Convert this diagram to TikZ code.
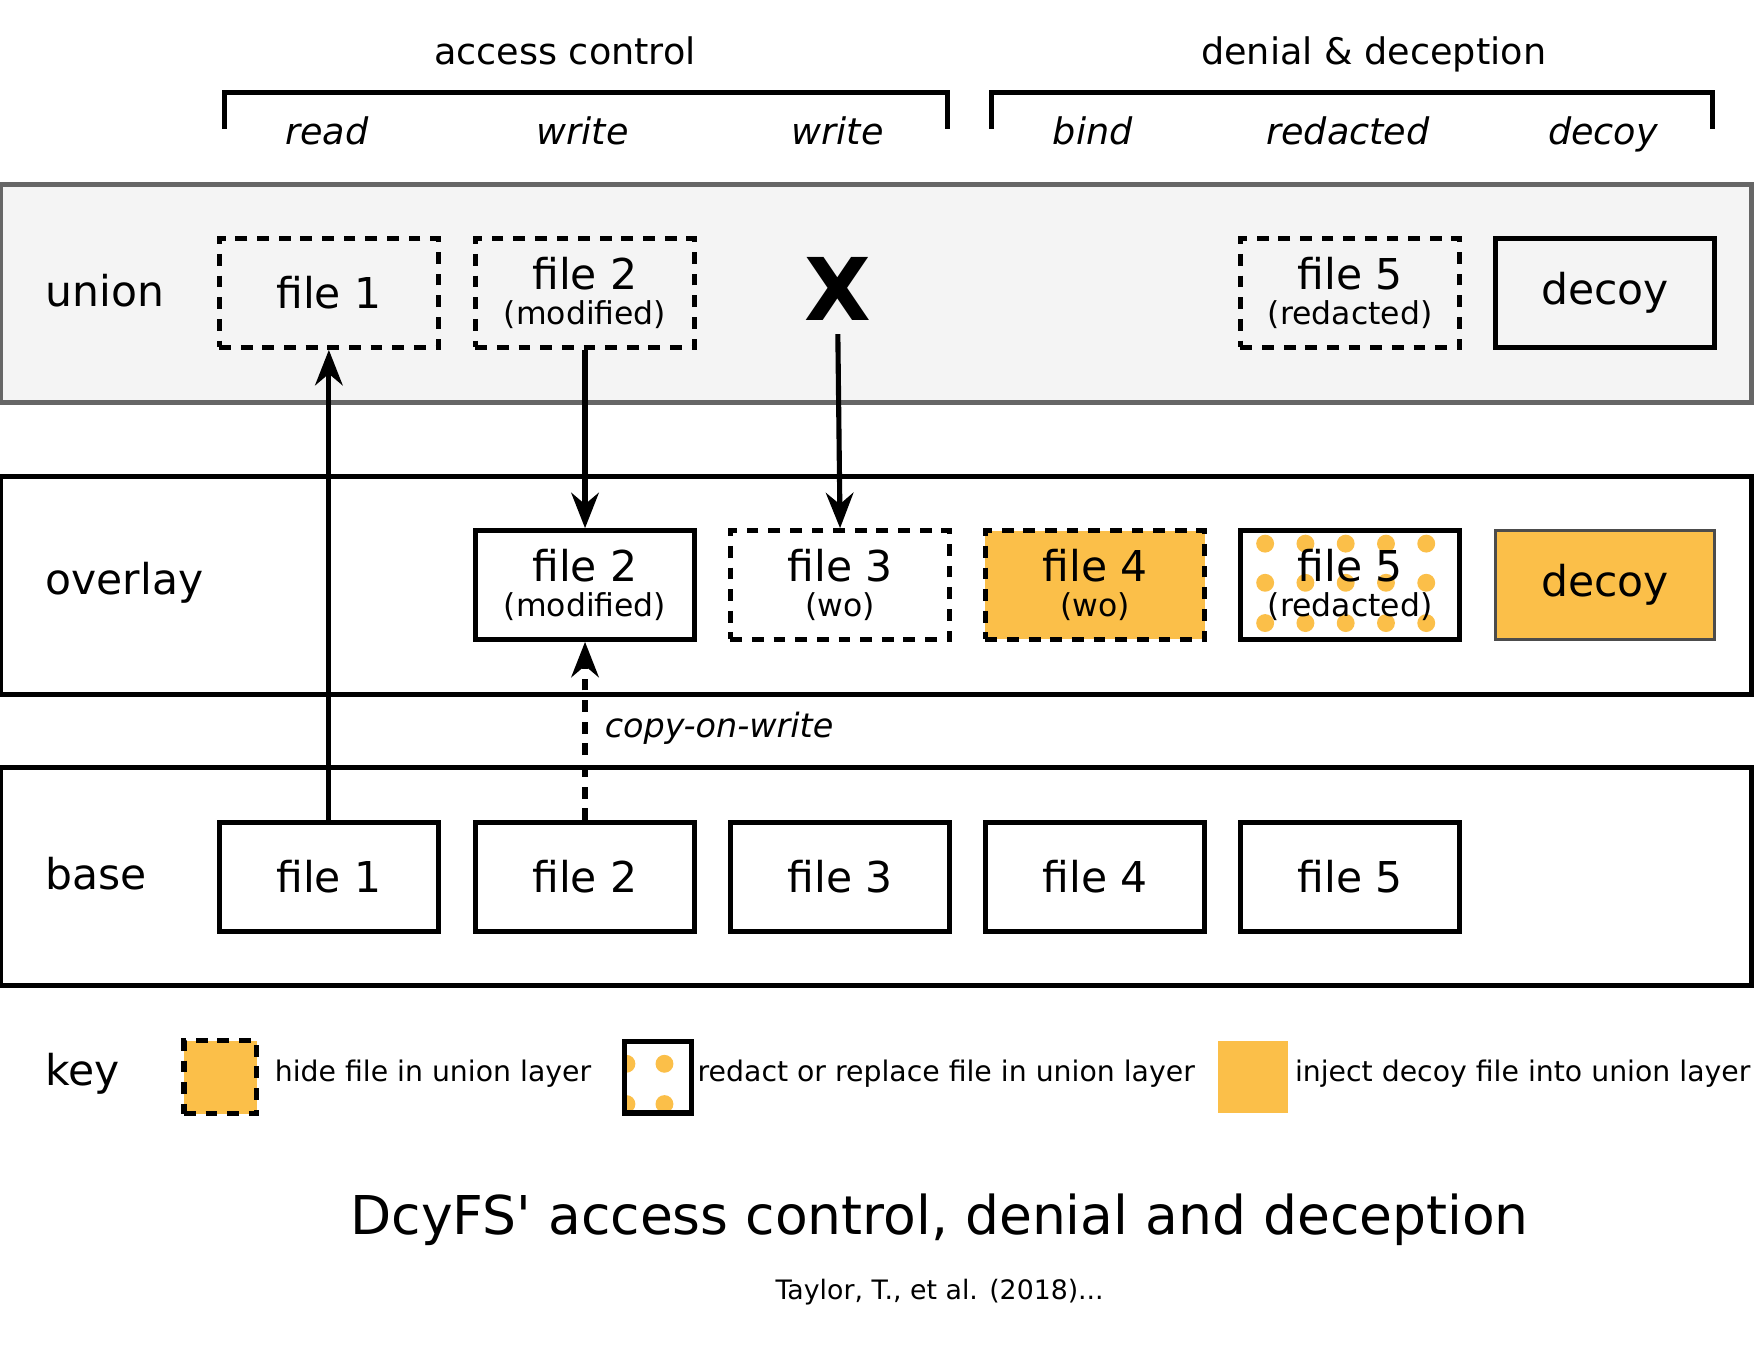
\documentclass[tikz,border=0pt]{standalone}
\usepackage{fontspec}
\usetikzlibrary{arrows.meta}
\setmainfont{DejaVu Sans}
\definecolor{dcyorange}{RGB}{251,191,73}
\definecolor{bandgray}{RGB}{244,244,244}
\tikzset{
  box/.style={draw=black,line width=1.3pt,minimum width=1.96cm,minimum height=0.97cm,inner sep=0pt,align=center,font=\fontsize{10.8}{12}\selectfont},
  hide/.style={dash pattern=on 3pt off 2.5pt},
  band/.style={draw=black,line width=1.3pt},
  lbl/.style={anchor=west,inner sep=0pt,font=\fontsize{10.8}{12}\selectfont},
  col/.style={font=\fontsize{9.3}{10}\selectfont\itshape},
  keytext/.style={anchor=west,inner sep=0pt,font=\fontsize{7.2}{8}\selectfont},
  arr/.style={-{Stealth[length=9pt,width=7pt]},line width=1.3pt},
}
\newcommand{\twoline}[2]{#1\\[-3pt]{\fontsize{8}{9}\selectfont #2}}
\begin{document}
\begin{tikzpicture}[x=0.01cm,y=-0.01cm]
  \useasboundingbox (0,0) rectangle (1568,1216);
  \clip (0,0) rectangle (1568,1216);

  % layers
  \draw [draw=black!60,fill=bandgray,line width=1.3pt] (0,165) rectangle (1566,360);
  \draw [band] (0,426) rectangle (1566,621);
  \draw [band] (0,686) rectangle (1566,881);
  \node [lbl] (union) at (40,260) {union};
  \node [lbl] (overlay) at (40,521) {overlay};
  \node [lbl] (base) at (40,781) {base};
  \node [lbl] (key) at (40,960) {key};

  % brackets and headers
  \draw [line width=1.3pt] (201,115) -- (201,83) -- (847,83) -- (847,115);
  \draw [line width=1.3pt] (886,115) -- (886,83) -- (1531,83) -- (1531,115);
  \node [font=\fontsize{9.3}{10}\selectfont,anchor=base] (ac) at (505,58) {access control};
  \node [font=\fontsize{9.3}{10}\selectfont,anchor=base] (dd) at (1228,58) {denial \& deception};
  \foreach \x/\t in {292/read,521/write,749/write,977/bind,1205/redacted,1433/decoy}
    \node [col,anchor=base] at (\x,129) {\t};

  % union row
  \node [box,hide] (u1) at (294,262) {file 1};
  \node [box,hide] (u2) at (523,262) {\twoline{file 2}{(modified)}};
  \node [font=\fontsize{22}{22}\bfseries] (ux) at (749,258) {X};
  \node [box,hide] (u5) at (1207,262) {\twoline{file 5}{(redacted)}};
  \node [box] (u6) at (1435,262) {decoy};

  % overlay row
  \node [box] (o2) at (523,523) {\twoline{file 2}{(modified)}};
  \node [box,hide] (o3) at (751,523) {\twoline{file 3}{(wo)}};
  \node [box,hide,fill=dcyorange] (o4) at (979,523) {\twoline{file 4}{(wo)}};
  \begin{scope}
    \clip (1109,474) rectangle (1305,572);
    \foreach \x in {1131,1167,1203,1239,1275}
      \foreach \y in {486,521,557}
        \fill [dcyorange] (\x,\y) circle (0.08cm);
  \end{scope}
  \node [box] (o5) at (1207,523) {\twoline{file 5}{(redacted)}};
  \node [box,draw=black!70,line width=0.8pt,fill=dcyorange] (o6) at (1435,523) {decoy};

  % base row
  \foreach \x [count=\i] in {294,523,751,979,1207}
    \node [box] (b\i) at (\x,784) {file \i};

  % connectors
  \draw [arr] (b1.north) -- (u1.south);
  \draw [arr] (u2.south) -- (o2.north);
  \draw [arr] (ux.south) -- (o3.north);
  \draw [arr,hide] (b2.north) -- (o2.south);
  \node [anchor=west,inner sep=0pt,font=\fontsize{8.5}{10}\selectfont\itshape] (cow) at (540,651) {copy-on-write};

  % key
  \node [draw=black,hide,line width=1.3pt,fill=dcyorange,minimum size=0.65cm,inner sep=0pt] (k1) at (197,963) {};
  \node [keytext] (k1t) at (245,960) {hide file in union layer};
  \begin{scope}
    \clip (558,931) rectangle (618,995);
    \foreach \x in {560,594}
      \foreach \y in {951,987}
        \fill [dcyorange] (\x,\y) circle (0.08cm);
  \end{scope}
  \node [draw=black,line width=1.3pt,minimum width=0.6cm,minimum height=0.64cm,inner sep=0pt] (k2) at (588,963) {};
  \node [keytext] (k2t) at (623,960) {redact or replace file in union layer};
  \node [fill=dcyorange,minimum width=0.63cm,minimum height=0.64cm,inner sep=0pt] (k3) at (1120,963) {};
  \node [keytext] (k3t) at (1157,960) {inject decoy file into union layer};

  % title
  \node [font=\fontsize{13.6}{15}\selectfont] (title) at (840,1090) {DcyFS\textquotesingle{} access control, denial and deception};
  \node [font=\fontsize{6.8}{8}\selectfont] (cite) at (840,1155) {Taylor, T., et al. (2018)...};
\end{tikzpicture}
\end{document}
